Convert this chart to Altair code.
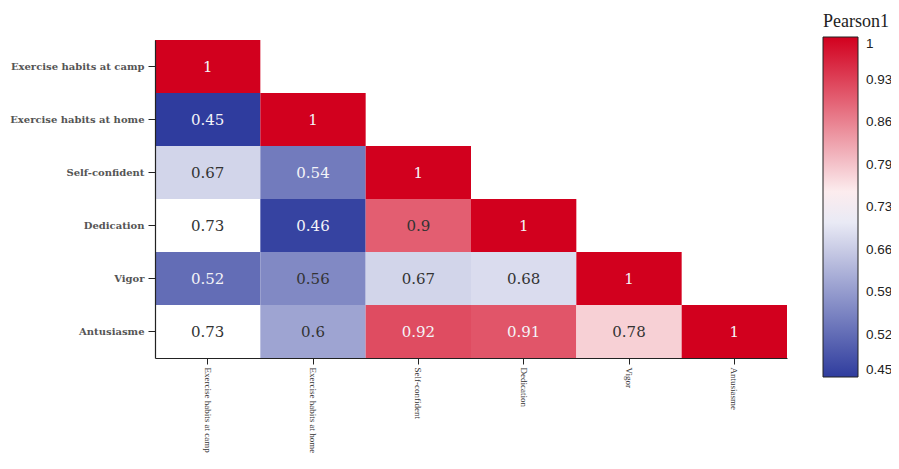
import altair as alt
import pandas as pd

names = ["Exercise habits at camp", "Exercise habits at home", "Self-confident",
         "Dedication", "Vigor", "Antusiasme"]
row_values = [
    [1],
    [0.45, 1],
    [0.67, 0.54, 1],
    [0.73, 0.46, 0.9, 1],
    [0.52, 0.56, 0.67, 0.68, 1],
    [0.73, 0.6, 0.92, 0.91, 0.78, 1],
]
legend_values = [0.45, 0.51875, 0.5875, 0.65625, 0.725, 0.79375, 0.8625, 0.93125, 1.0]

rows = []
for i, vals in enumerate(row_values):
    for j, v in enumerate(vals):
        rows.append({"row": names[i], "col": names[j], "r": v})
df = pd.DataFrame(rows)

serif = "Liberation Serif"
wide_serif = "DejaVu Serif"
color_scale = alt.Scale(domain=[0.45, 0.73, 1.0],
                        range=["#2f3c9e", "#ffffff", "#d2001e"],
                        interpolate="rgb")

x_enc = alt.X("col:N", sort=names, title=None,
              scale=alt.Scale(paddingInner=0, paddingOuter=0),
              axis=alt.Axis(labelAngle=90, labelFont=serif, labelFontSize=9,
                            labelColor="#333", domainColor="#222", tickColor="#222",
                            tickSize=6, labelPadding=3, domainWidth=1.2, grid=False,
                            labelLimit=200))
y_enc = alt.Y("row:N", sort=names, title=None,
              scale=alt.Scale(paddingInner=0, paddingOuter=0),
              axis=alt.Axis(labelFont=wide_serif, labelFontSize=10, labelFontWeight="bold",
                            labelColor="#555", domainColor="#222", tickColor="#222",
                            tickSize=7, labelPadding=4, domainWidth=1.2, grid=False))

base = alt.Chart(df).encode(x=x_enc, y=y_enc)

rects = base.mark_rect().encode(
    color=alt.Color("r:Q", scale=color_scale,
                    legend=alt.Legend(title="Pearson1", orient="none", legendX=668, legendY=-27,
                                      direction="vertical", gradientLength=340,
                                      gradientThickness=35, gradientStrokeColor="#222",
                                      gradientStrokeWidth=1, values=legend_values,
                                      labelExpr="datum.value >= 0.99 ? '1' : format(datum.value + 0.0001, '.2f')",
                                      labelFont="Liberation Sans", labelFontSize=13.5,
                                      labelColor="#222", labelOffset=8,
                                      titleFont=serif, titleFontSize=18, titleFontWeight="normal",
                                      titleColor="#222", titlePadding=6))
)

texts = base.mark_text(font=wide_serif, fontSize=15).encode(
    text=alt.Text("r:Q"),
    color=alt.condition("datum.r < 0.555 || datum.r > 0.905",
                        alt.value("#f4f4f8"), alt.value("#333333")),
)

chart = (rects + texts).properties(
    width=632, height=318,
    background="white",
    autosize=alt.AutoSizeParams(type="none"),
    padding={"left": 147, "top": 32, "right": 104, "bottom": 103},
).configure_view(stroke=None)

chart.save("out.html", embed_options={"renderer": "svg", "actions": False})
